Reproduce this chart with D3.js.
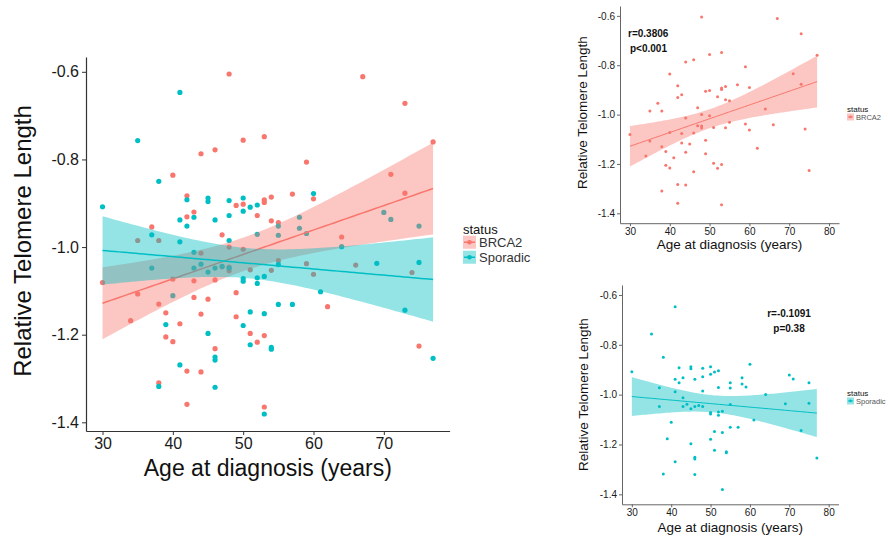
<!DOCTYPE html>
<html>
<head>
<meta charset="utf-8">
<script src="https://cdn.jsdelivr.net/npm/d3@7"></script>
<style>
  body { margin: 0; background: #fff; }
  svg { font-family: "Liberation Sans", Arial, sans-serif; }
</style>
</head>
<body>
<svg id="chart" width="888" height="539"></svg>
<script>
// BRCA2 carriers: age at diagnosis and relative telomere length
var brcaAge = [30,34,35,35,37,38,38,38,39,39,40,40,40,41,42,42,42,42,43,43,43,44,44,44,44,45,46,46,46,47,47,48,48,48,48,49,49,49,50,50,50,51,51,52,52,53,53,53,53,53,54,54,54,55,55,57,59,59,60,60,62,64,66,67,71,73,73,74,75,77]
var brcaRtl = [-1.081,-1.168,-0.985,-1.107,-0.954,-0.985,-1.13,-1.31,-1.15,-1.205,-0.836,-1.073,-1.216,-1.175,-0.883,-0.931,-1.283,-1.359,-0.92,-1.077,-1.115,-0.787,-1.014,-1.153,-1.285,-1.119,-0.778,-1.075,-1.232,-0.972,-1.045,-0.605,-1.0,-1.046,-1.054,-1.104,-1.159,-0.905,-0.756,-0.902,-1.005,-1.052,-1.197,-0.928,-1.217,-0.748,-0.892,-0.898,-1.202,-1.365,-0.886,-0.94,-1.053,-0.944,-1.031,-0.879,-0.806,-1.038,-0.89,-1.062,-1.136,-0.977,-1.041,-0.611,-0.834,-0.672,-0.877,-1.058,-1.226,-0.76]

// Sporadic cases
var sporAge = [30,35,37,37,38,38,39,40,41,41,41,41,42,42,43,43,43,44,45,45,45,45,46,46,46,46,46,47,48,48,48,48,50,50,50,50,50,51,51,51,52,52,52,52,53,53,53,54,54,55,55,55,55,57,58,58,59,60,61,64,69,70,71,73,75,75,77]
var sporRtl = [-0.908,-0.757,-0.972,-1.048,-0.85,-1.318,-1.177,-1.111,-0.647,-0.938,-0.988,-1.269,-0.892,-0.952,-0.932,-1.012,-1.048,-1.039,-0.888,-0.896,-1.057,-1.197,-0.938,-1.048,-1.251,-1.258,-1.32,-1.044,-0.894,-0.928,-0.985,-1.048,-0.888,-0.918,-1.072,-1.078,-1.179,-0.909,-1.148,-1.223,-0.904,-0.971,-1.07,-1.083,-1.067,-1.152,-1.381,-1.229,-1.233,-0.952,-0.973,-1.04,-1.131,-1.131,-0.932,-0.957,-0.969,-0.878,-1.102,-0.999,-1.037,-0.921,-0.937,-1.144,-0.952,-1.035,-1.254]

var xTicksMain = [30,40,50,60,70]
var xTicksSmall = [30,40,50,60,70,80]
var yTicks = [-1.4,-1.2,-1.0,-0.8,-0.6]

var groups = [
    {name: "BRCA2", age: brcaAge, rtl: brcaRtl, color: "#F8766D", stat: ["r=0.3806", "p<0.001"]},
    {name: "Sporadic", age: sporAge, rtl: sporRtl, color: "#00BFC4", stat: ["r=-0.1091", "p=0.38"]}
]

var svg = d3.select("#chart")

//linear fit with 95% confidence band, like geom_smooth(method = lm)
function fitLm(xs, ys){
    var n = xs.length
    var mx = d3.mean(xs), my = d3.mean(ys)
    var sxx = d3.sum(xs, x => (x - mx) * (x - mx))
    var sxy = d3.sum(xs, (x, i) => (x - mx) * (ys[i] - my))
    var b = sxy / sxx, a = my - b * mx
    var sse = d3.sum(xs, (x, i) => Math.pow(ys[i] - (a + b * x), 2))
    var s = Math.sqrt(sse / (n - 2))
    var t = 1.995
    var lo = d3.min(xs), hi = d3.max(xs)
    var pts = []
    for(var k = 0; k <= 80; k++){
        var x = lo + (hi - lo) * k / 80
        var fit = a + b * x
        var se = s * Math.sqrt(1 / n + (x - mx) * (x - mx) / sxx)
        pts.push({x: x, fit: fit, lo: fit - t * se, hi: fit + t * se})
    }
    return pts
}

function expand(ext){
    var pad = (ext[1] - ext[0]) * 0.05
    return [ext[0] - pad, ext[1] + pad]
}

function drawPanel(p){
    var g = svg.append("g")
    var xScale = d3.scaleLinear().domain(expand(p.xDomain)).range([p.left, p.right])
    var yScale = d3.scaleLinear().domain(expand(p.yDomain)).range([p.bottom, p.top])

    //points first, ribbons go over them
    p.groups.forEach(function(grp){
        g.selectAll(null)
            .data(grp.age.map((a, i) => [a, grp.rtl[i]]))
            .enter()
            .append("circle")
            .attr("cx", d => xScale(d[0]))
            .attr("cy", d => yScale(d[1]))
            .attr("r", p.r)
            .attr("fill", grp.color)
    })

    p.groups.forEach(function(grp){
        var band = fitLm(grp.age, grp.rtl)
        g.append("path")
            .datum(band)
            .attr("fill", grp.color)
            .attr("fill-opacity", 0.42)
            .attr("d", d3.area().x(d => xScale(d.x)).y0(d => yScale(d.lo)).y1(d => yScale(d.hi)))
        g.append("path")
            .datum(band)
            .attr("fill", "none")
            .attr("stroke", grp.color)
            .attr("stroke-width", p.lw)
            .attr("d", d3.line().x(d => xScale(d.x)).y(d => yScale(d.fit)))
    })

    var xAxis = g.append("g")
        .attr("transform", `translate(0,${p.bottom})`)
        .call(d3.axisBottom(xScale).tickValues(p.xTicks).tickSize(p.tick).tickPadding(p.pad).tickSizeOuter(0))
    var yAxis = g.append("g")
        .attr("transform", `translate(${p.left},0)`)
        .call(d3.axisLeft(yScale).tickValues(yTicks).tickFormat(d3.format(".1f")).tickSize(p.tick).tickPadding(p.pad).tickSizeOuter(0))
    ;[xAxis, yAxis].forEach(function(ax){
        ax.select(".domain").attr("stroke", p.axisColor).attr("stroke-width", p.axisW)
        ax.selectAll(".tick line").attr("stroke", p.axisColor)
        ax.selectAll("text").attr("font-size", p.tickFont).attr("fill", "#1a1a1a")
            .attr("font-family", "Liberation Sans, Arial, sans-serif")
    })
    yAxis.selectAll("text").text(d => d3.format(".1f")(d).replace("\u2212", "-"))

    g.append("text")
        .attr("x", (p.left + p.right) / 2)
        .attr("y", p.xTitleY)
        .attr("text-anchor", "middle")
        .attr("font-size", p.titleFont)
        .attr("fill", "#111")
        .text("Age at diagnosis (years)")
    g.append("text")
        .attr("transform", `translate(${p.yTitleX},${(p.top + p.bottom) / 2 + p.yTitleShift}) rotate(-90)`)
        .attr("text-anchor", "middle")
        .attr("font-size", p.yTitleFont || p.titleFont)
        .attr("fill", "#111")
        .text("Relative Telomere Length")

    //legend
    var lg = g.append("g").attr("transform", `translate(${p.legX},${p.legY})`)
    lg.append("text").attr("x", 0).attr("y", 0).attr("font-size", p.legTitle).attr("fill", "#111").text("status")
    p.groups.forEach(function(grp, i){
        var ky = p.legGap * 0.55 + i * p.legGap
        lg.append("rect").attr("x", 0).attr("y", ky - p.key / 2).attr("width", p.key).attr("height", p.key)
            .attr("fill", grp.color).attr("fill-opacity", 0.42)
        lg.append("line").attr("x1", 1).attr("x2", p.key - 1).attr("y1", ky).attr("y2", ky)
            .attr("stroke", grp.color).attr("stroke-width", p.lw)
        lg.append("circle").attr("cx", p.key / 2).attr("cy", ky).attr("r", p.r * 0.9).attr("fill", grp.color)
        lg.append("text").attr("x", p.key + p.keyGap).attr("y", ky).attr("dy", "0.35em")
            .attr("font-size", p.legFont).attr("fill", p.legColor).text(grp.name)
    })

    if(p.stat){
        p.stat.lines.forEach(function(s, i){
            g.append("text")
                .attr("x", p.stat.x + (p.stat.dx ? p.stat.dx[i] : 0))
                .attr("y", p.stat.y + i * 15)
                .attr("text-anchor", p.stat.anchor)
                .attr("font-size", 10)
                .attr("font-weight", "bold")
                .attr("fill", "#111")
                .text(s)
        })
    }
}

var allAge = brcaAge.concat(sporAge)
var allRtl = brcaRtl.concat(sporRtl)

//main panel, both groups
drawPanel({
    groups: groups,
    xDomain: d3.extent(allAge), yDomain: d3.extent(allRtl),
    left: 86, right: 449.6, top: 57, bottom: 431,
    xTicks: xTicksMain, r: 2.6, lw: 1.5, tick: 4, pad: 3, axisColor: "#333", axisW: 1.2,
    tickFont: 16, titleFont: 23, yTitleFont: 24, xTitleY: 476, yTitleX: 31, yTitleShift: -3,
    legX: 463, legY: 234, legGap: 15, key: 13, keyGap: 3, legTitle: 13, legFont: 13, legColor: "#333"
})

//BRCA2 only
drawPanel({
    groups: [groups[0]],
    xDomain: [30, 80], yDomain: [-1.4, -0.6],
    left: 620, right: 839, top: 6, bottom: 223.2,
    xTicks: xTicksSmall, r: 1.5, lw: 1, tick: 3, pad: 2, axisColor: "#666", axisW: 1,
    tickFont: 10, titleFont: 13.5, xTitleY: 249, yTitleX: 587, yTitleShift: -2,
    legX: 847, legY: 112, legGap: 9, key: 7, keyGap: 2, legTitle: 8, legFont: 7.5, legColor: "#555",
    stat: {lines: groups[0].stat, x: 628, y: 37, anchor: "start", dx: [0, 2]}
})

//Sporadic only
drawPanel({
    groups: [groups[1]],
    xDomain: [30, 80], yDomain: [-1.4, -0.6],
    left: 622, right: 838.5, top: 285, bottom: 504.3,
    xTicks: xTicksSmall, r: 1.5, lw: 1, tick: 3, pad: 2, axisColor: "#666", axisW: 1,
    tickFont: 10, titleFont: 13.5, xTitleY: 532, yTitleX: 588, yTitleShift: 0,
    legX: 847, legY: 396, legGap: 9, key: 7, keyGap: 2, legTitle: 8, legFont: 7.5, legColor: "#555",
    stat: {lines: groups[1].stat, x: 789, y: 317, anchor: "middle"}
})
</script>
</body>
</html>
